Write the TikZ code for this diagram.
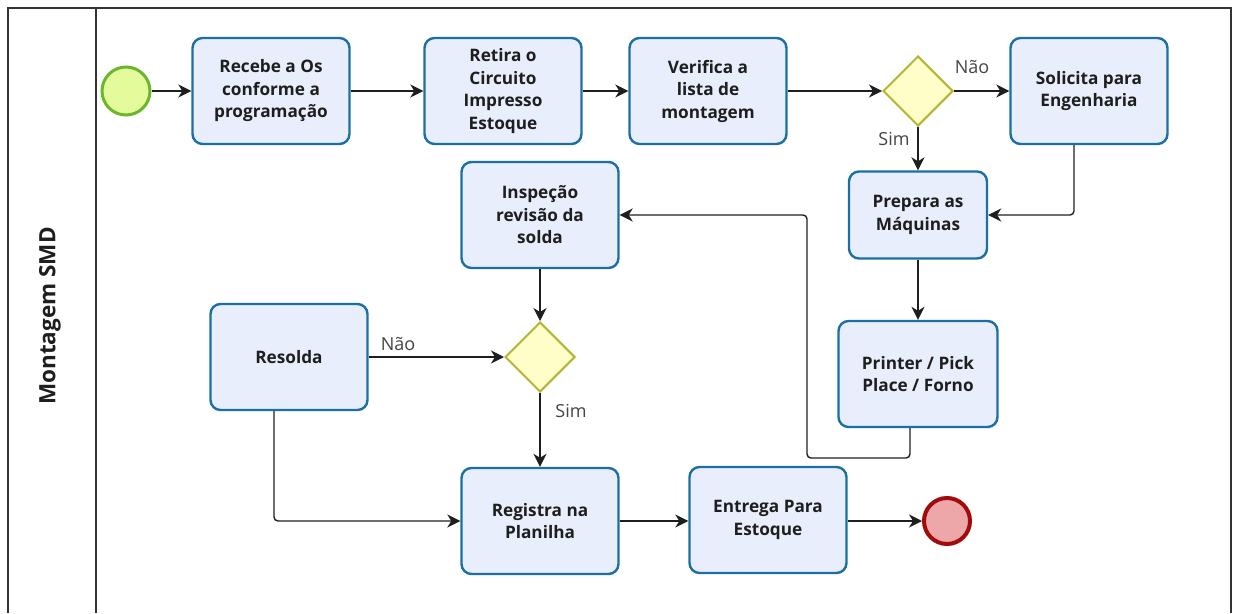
\documentclass[tikz,border=0pt]{standalone}
\usepackage{fontspec}
\setmainfont{Open Sans}
\usetikzlibrary{shapes.geometric,arrows.meta}

\definecolor{taskfill}{HTML}{E9EEFC}
\definecolor{taskline}{HTML}{1B6FA3}
\definecolor{startfill}{HTML}{E4FB9C}
\definecolor{startline}{HTML}{6CB52C}
\definecolor{endfill}{HTML}{EDA7A8}
\definecolor{endline}{HTML}{A10B0B}
\definecolor{gatefill}{HTML}{FFFDC8}
\definecolor{gateline}{HTML}{B4B536}
\definecolor{ink}{HTML}{1E1E1E}
\definecolor{labelgray}{HTML}{444444}
\definecolor{frame}{HTML}{333333}

\tikzset{
  task/.style={rectangle, rounded corners=10pt, draw=taskline, fill=taskfill,
    line width=2.4pt, minimum width=157pt, minimum height=106pt, inner sep=2pt,
    align=center, text=ink, font=\bfseries\fontsize{17.2}{22.5}\selectfont},
  gate/.style={diamond, aspect=1, draw=gateline, fill=gatefill, line width=2pt,
    minimum width=70pt, minimum height=70pt, inner sep=0pt},
  startev/.style={circle, draw=startline, fill=startfill, line width=3pt,
    minimum size=48pt, inner sep=0pt},
  endev/.style={circle, draw=endline, fill=endfill, line width=4pt,
    minimum size=46pt, inner sep=0pt},
  flow/.style={draw=ink, line width=1.4pt, rounded corners=4pt,
    -{Stealth[length=13pt, width=13pt, inset=4pt]}},
  flowlabel/.style={text=labelgray, font=\fontsize{18}{20}\selectfont},
  lanetitle/.style={font=\bfseries\fontsize{22.5}{26}\selectfont, text=ink, rotate=90}
}

\begin{document}
\begin{tikzpicture}[x=1pt, y=-1pt]
  \useasboundingbox (0,0) rectangle (1233,613);

  % pool and lane frame
  \draw[frame, line width=1.5pt] (8,613) -- (8,8) -- (1231,8) -- (1231,613);
  \draw[frame, line width=1.5pt] (96,8) -- (96,613);
  \node[lanetitle] (lane) at (50,316) {Montagem SMD};

  % events
  \node[startev] (start) at (126,91) {};
  \node[endev] (finish) at (947,521) {};

  % tasks
  \node[task] (recebe) at (271,91) {Recebe a Os\\conforme a\\programação};
  \node[task] (retira) at (503,91) {Retira o\\Circuito\\Impresso\\Estoque};
  \node[task] (verifica) at (708,91) {Verifica a\\lista de\\montagem};
  \node[task] (solicita) at (1089,91) {Solicita para\\Engenharia};
  \node[task, minimum width=138pt, minimum height=87pt] (prepara) at (918,215) {Prepara as\\Máquinas};
  \node[task, minimum width=159pt] (printer) at (918,374) {Printer / Pick\\Place / Forno};
  \node[task] (inspecao) at (540,215) {Inspeção\\revisão da\\solda};
  \node[task] (resolda) at (289,357) {Resolda};
  \node[task] (registra) at (540,521) {Registra na\\Planilha};
  \node[task] (entrega) at (768,520) {Entrega Para\\Estoque};

  % gateways
  \node[gate] (lista) at (918,91) {};
  \node[gate] (solda) at (540,357) {};

  % bend point of the return flow
  \coordinate (retorno) at (807,458);

  % sequence flows
  \draw[flow] (start) -- (recebe);
  \draw[flow] (recebe) -- (retira);
  \draw[flow] (retira) -- (verifica);
  \draw[flow] (verifica) -- (lista);
  \draw[flow] (lista.east) -- (solicita.west);
  \draw[flow] (lista.south) -- (prepara.north);
  \draw[flow] ([xshift=-15pt]solicita.south) |- (prepara.east);
  \draw[flow] (prepara) -- (printer);
  \draw[flow] ([xshift=-8pt]printer.south) |- (retorno) |- (inspecao.east);
  \draw[flow] (inspecao) -- (solda.north);
  \draw[flow] (resolda.east) -- (solda.west);
  \draw[flow] (solda.south) -- (registra.north);
  \draw[flow] ([xshift=-15pt]resolda.south) |- (registra.west);
  \draw[flow] (registra) -- (entrega.west |- registra.east);
  \draw[flow] (entrega.east |- finish) -- (finish);

  % flow labels
  \node[flowlabel] (nao1) at (972,67) {Não};
  \node[flowlabel] (sim1) at (894,139) {Sim};
  \node[flowlabel] (nao2) at (398,344) {Não};
  \node[flowlabel] (sim2) at (571,411) {Sim};
\end{tikzpicture}
\end{document}
